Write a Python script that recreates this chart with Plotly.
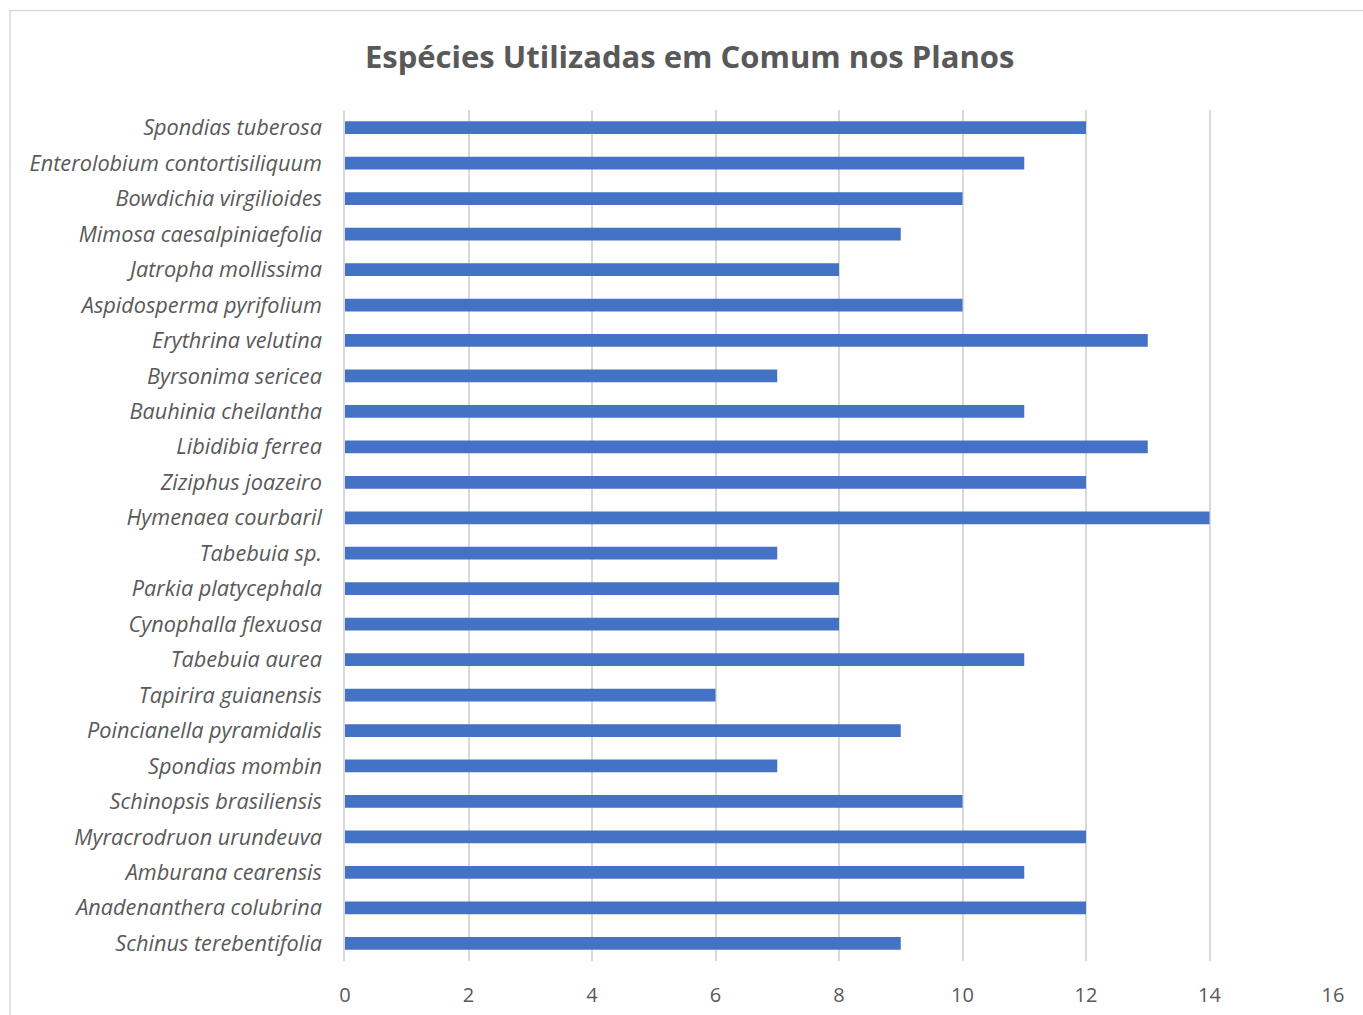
import plotly.graph_objects as go

species = [
    "Spondias tuberosa", "Enterolobium contortisiliquum", "Bowdichia virgilioides",
    "Mimosa caesalpiniaefolia", "Jatropha mollissima", "Aspidosperma pyrifolium",
    "Erythrina velutina", "Byrsonima sericea", "Bauhinia cheilantha", "Libidibia ferrea",
    "Ziziphus joazeiro", "Hymenaea courbaril", "Tabebuia sp.", "Parkia platycephala",
    "Cynophalla flexuosa", "Tabebuia aurea", "Tapirira guianensis",
    "Poincianella pyramidalis", "Spondias mombin", "Schinopsis brasiliensis",
    "Myracrodruon urundeuva", "Amburana cearensis", "Anadenanthera colubrina",
    "Schinus terebentifolia",
]
counts = [12, 11, 10, 9, 8, 10, 13, 7, 11, 13, 12, 14, 7, 8, 8, 11, 6, 9, 7, 10, 12, 11, 12, 9]
x_ticks = [0, 2, 4, 6, 8, 10, 12, 14, 16]

W, H = 1363, 1015
L, R, T, B = 345, 30, 110, 54
pw, ph = W - L - R, H - T - B

fig = go.Figure(go.Bar(
    x=counts, y=species, orientation="h",
    marker=dict(color="#4472C4", line=dict(width=0)),
))

gray = "#595959"
fig.update_layout(
    width=W, height=H,
    margin=dict(l=L, r=R, t=T, b=B, autoexpand=False),
    paper_bgcolor="white", plot_bgcolor="white",
    bargap=0.64,
    showlegend=False,
    font=dict(family="Open Sans, sans-serif", color=gray),
    title=dict(text="<b>Espécies Utilizadas em Comum nos Planos</b>",
               x=0.506, xanchor="center", y=1 - 57 / H, yanchor="middle",
               font=dict(size=31, color=gray, family="Open Sans, sans-serif")),
    xaxis=dict(range=[0, 16], tickvals=x_ticks, showgrid=True, gridcolor="#D9D9D9",
               gridwidth=1.5, zeroline=False, showline=False,
               tickfont=dict(size=20, color=gray), ticks="", ticklabelstandoff=20),
    yaxis=dict(autorange="reversed", showgrid=False, showline=True,
               linecolor="#D9D9D9", linewidth=1.5, ticks="",
               tickfont=dict(size=21.7, color=gray, style="italic"),
               ticklabelstandoff=17),
)

# outer chart border (top and left visible)
x_left = (10 - L) / pw
x_right = (W + 5 - L) / pw
y_top = 1 + (T - 10.5) / ph
y_bot = -(H + 5 - (H - B)) / ph
fig.add_shape(type="rect", xref="paper", yref="paper",
              x0=x_left, x1=x_right, y0=y_bot, y1=y_top,
              line=dict(color="#D9D9D9", width=1.5), layer="below")

fig.write_html("out.html")
